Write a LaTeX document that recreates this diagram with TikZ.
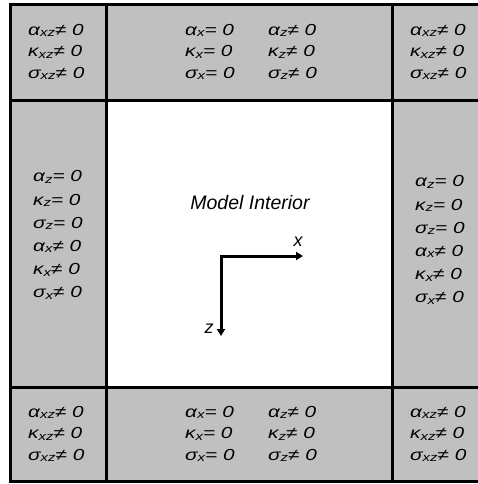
\documentclass[tikz,border=0pt]{standalone}
\usepackage{fontspec}
\setmainfont{Liberation Sans}
\newfontfamily\widefont[FakeStretch=1.3]{Liberation Sans}
\usetikzlibrary{arrows.meta}
\definecolor{cellgray}{RGB}{192,192,192}
\newcommand\subs[1]{\raisebox{-0.15ex}{\fontsize{11.5}{11.5}\selectfont #1}}
\begin{document}
\begin{tikzpicture}[x=1pt,y=-1pt,
  lab/.style={font=\widefont\fontsize{16}{21.5}\selectfont\itshape, align=left, inner sep=0pt, anchor=west},
  sidelab/.style={font=\widefont\fontsize{16}{23.2}\selectfont\itshape, align=left, inner sep=0pt, anchor=west},
  grid/.style={line width=3pt, black},
  axis/.style={line width=3pt, black, {Triangle[length=7pt,width=8pt]}-{Triangle[length=7pt,width=8pt]}}]
\useasboundingbox (0,0) rectangle (477,484);
% cells
\fill[cellgray] (10,5) rectangle (490,481);
\fill[white] (106,101) rectangle (392,387);
\draw[grid] (10,5) rectangle (490,481);
\draw[grid] (106,5) -- (106,481);
\draw[grid] (392,5) -- (392,481);
\draw[grid] (10,101) -- (490,101);
\draw[grid] (10,387) -- (490,387);
% corner texts
\node[lab] (tl) at (28,52) {α\subs{xz}≠ 0\\κ\subs{xz}≠ 0\\σ\subs{xz}≠ 0};
\node[lab] (tr) at (410,52) {α\subs{xz}≠ 0\\κ\subs{xz}≠ 0\\σ\subs{xz}≠ 0};
\node[lab] (bl) at (28,434) {α\subs{xz}≠ 0\\κ\subs{xz}≠ 0\\σ\subs{xz}≠ 0};
\node[lab] (br) at (410,434) {α\subs{xz}≠ 0\\κ\subs{xz}≠ 0\\σ\subs{xz}≠ 0};
% top / bottom
\node[lab] (t1) at (185,52) {α\subs{x}= 0\\κ\subs{x}= 0\\σ\subs{x}= 0};
\node[lab] (t2) at (268,52) {α\subs{z}≠ 0\\κ\subs{z}≠ 0\\σ\subs{z}≠ 0};
\node[lab] (b1) at (185,434) {α\subs{x}= 0\\κ\subs{x}= 0\\σ\subs{x}= 0};
\node[lab] (b2) at (268,434) {α\subs{z}≠ 0\\κ\subs{z}≠ 0\\σ\subs{z}≠ 0};
% sides
\node[sidelab] (lf) at (33,235) {α\subs{z}= 0\\κ\subs{z}= 0\\σ\subs{z}= 0\\α\subs{x}≠ 0\\κ\subs{x}≠ 0\\σ\subs{x}≠ 0};
\node[sidelab] (rt) at (415,240) {α\subs{z}= 0\\κ\subs{z}= 0\\σ\subs{z}= 0\\α\subs{x}≠ 0\\κ\subs{x}≠ 0\\σ\subs{x}≠ 0};
% interior
\node[font=\fontsize{19.5}{19.5}\selectfont\itshape, inner sep=0pt] (mi) at (250,203) {Model Interior};
\coordinate (o) at (221,256);
\coordinate (xe) at (303,256);
\coordinate (ze) at (221,336);
\draw[axis] (ze) -- (o) -- (xe);
\node[font=\fontsize{18}{18}\selectfont\itshape, inner sep=0pt] (xl) at (298,242) {x};
\node[font=\fontsize{18}{18}\selectfont\itshape, inner sep=0pt] (zl) at (209,329) {z};
\end{tikzpicture}
\end{document}
